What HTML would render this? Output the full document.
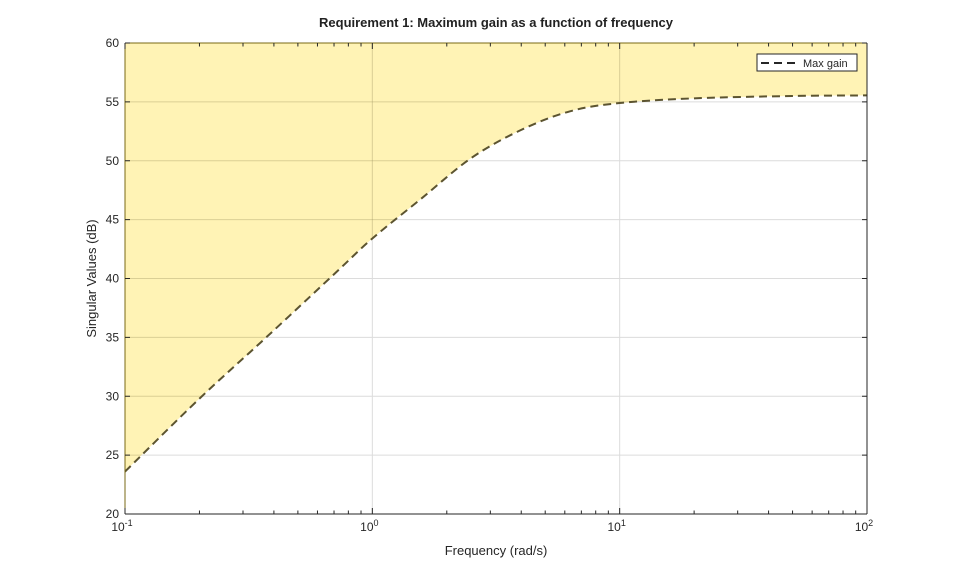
<!DOCTYPE html>
<html><head><meta charset="utf-8"><style>
html,body{margin:0;padding:0;background:#fff;}
svg{display:block;font-family:"Liberation Sans",Arial,sans-serif;}
</style></head><body>
<svg id="chart" width="959" height="577">
<rect x="0" y="0" width="959" height="577" fill="#fff"/>
<g id="grid"></g>
<path id="fill" fill="#fff3b5"/>
<g id="gridover"></g>
<path id="line" fill="none" stroke="#5c5430" stroke-width="2" stroke-dasharray="8,5"/>
<g id="axes"></g>
<text x="496" y="27" text-anchor="middle" font-size="13" font-weight="bold" fill="#222">Requirement 1: Maximum gain as a function of frequency</text>
<text x="496" y="555" text-anchor="middle" font-size="13" fill="#262626">Frequency (rad/s)</text>
<text transform="translate(96,278.5) rotate(-90)" text-anchor="middle" font-size="13" fill="#262626">Singular Values (dB)</text>
<g>
<rect x="757" y="54" width="100" height="17" fill="#fff" stroke="#262626" stroke-width="1"/>
<line x1="761" y1="63" x2="800" y2="63" stroke="#262626" stroke-width="2" stroke-dasharray="8,5"/>
<text x="803" y="67" font-size="11" fill="#262626">Max gain</text>
</g>
</svg>
<script>
const freqs=[0.1,0.2,0.375,0.695,1,1.56,2.5,3.98,6.3,10,20,50,100];
const gains=[23.6,29.8,35.06,40.3,43.4,46.7,50.2,52.6,54.2,54.9,55.3,55.5,55.55];
const yTicks=[20,25,30,35,40,45,50,55,60];
const xDecades=[-1,0,1,2];
const L=125,R=867,T=43,B=514;
const xs=w=>L+(Math.log10(w)+1)/3*(R-L);
const ys=v=>B-(v-20)/40*(B-T);
const NS='http://www.w3.org/2000/svg';
function mk(tag,attrs,parent){const e=document.createElementNS(NS,tag);for(const k in attrs)e.setAttribute(k,attrs[k]);parent.appendChild(e);return e;}
const grid=document.getElementById('grid'),gov=document.getElementById('gridover'),axes=document.getElementById('axes');
// grid
[grid,gov].forEach((g,i)=>{
 const col=i?'rgba(150,140,90,0.35)':'#dcdcdc';
 yTicks.slice(1,-1).forEach(v=>{const l=mk('line',{x1:L,x2:R,y1:ys(v),y2:ys(v),stroke:col,'stroke-width':1},g);
 
 });
 xDecades.slice(1,-1).forEach(d=>{const x=xs(Math.pow(10,d));const l=mk('line',{x1:x,x2:x,y1:T,y2:B,stroke:col,'stroke-width':1},g);
 
 });
});
// curve
let d='';freqs.forEach((w,i)=>{d+=(i?'L':'M')+xs(w).toFixed(2)+','+ys(gains[i]).toFixed(2);});
// smooth via catmull-rom
const pts=freqs.map((w,i)=>[xs(w),ys(gains[i])]);
let s='M'+pts[0][0]+','+pts[0][1];
for(let i=0;i<pts.length-1;i++){const p0=pts[Math.max(i-1,0)],p1=pts[i],p2=pts[i+1],p3=pts[Math.min(i+2,pts.length-1)];
 s+=' C'+(p1[0]+(p2[0]-p0[0])/6)+','+(p1[1]+(p2[1]-p0[1])/6)+' '+(p2[0]-(p3[0]-p1[0])/6)+','+(p2[1]-(p3[1]-p1[1])/6)+' '+p2[0]+','+p2[1];}
document.getElementById('line').setAttribute('d',s);
document.getElementById('fill').setAttribute('d',s+' L'+R+','+T+' L'+L+','+T+' Z');
gov.setAttribute('clip-path','url(#cp)');
const defs=mk('defs',{},document.getElementById('chart'));
const cp=mk('clipPath',{id:'cp'},defs);mk('path',{d:s+' L'+R+','+T+' L'+L+','+T+' Z'},cp);
// axes
mk('line',{x1:L,x2:R,y1:B,y2:B,stroke:'#262626','stroke-width':1},axes);
mk('line',{x1:R,x2:R,y1:T,y2:B,stroke:'#262626','stroke-width':1},axes);
mk('line',{x1:L,x2:R,y1:T,y2:T,stroke:'#7a6a14','stroke-width':1},axes);
mk('line',{x1:L,x2:L,y1:T,y2:B,stroke:'#7a6a14','stroke-width':1},axes);
yTicks.forEach(v=>{const y=ys(v);
 mk('line',{x1:L,x2:L+5,y1:y,y2:y,stroke:'#262626'},axes);
 mk('line',{x1:R,x2:R-5,y1:y,y2:y,stroke:'#262626'},axes);
 const t=mk('text',{x:L-6,y:y+4,'text-anchor':'end','font-size':12,fill:'#262626'},axes);t.textContent=v;
 
 });
for(let d=-1;d<2;d++)for(let m=1;m<10;m++){const x=xs(m*Math.pow(10,d));const len=m==1?6:3.5;
 mk('line',{x1:x,x2:x,y1:B,y2:B-len,stroke:'#262626'},axes);mk('line',{x1:x,x2:x,y1:T,y2:T+len,stroke:'#262626'},axes);}
xDecades.forEach(d=>{const x=xs(Math.pow(10,d));
 const t=mk('text',{x:x-3,y:531,'text-anchor':'middle','font-size':12,fill:'#262626'},axes);
 
 
 t.appendChild(document.createTextNode('10'));
 const sp=mk('tspan',{dy:-5,'font-size':9},t);sp.textContent=d;});
</script>
</body></html>
